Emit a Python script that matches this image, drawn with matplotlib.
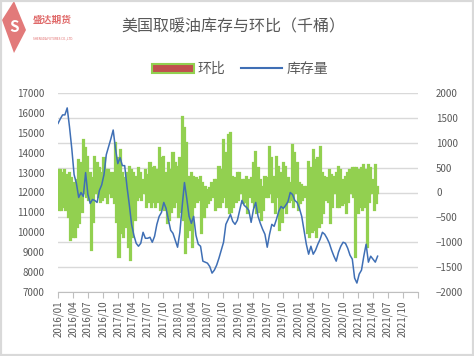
import matplotlib
matplotlib.use("Agg")
import matplotlib.pyplot as plt
from matplotlib.patches import Patch, Polygon, Rectangle
from matplotlib.lines import Line2D
import numpy as np
import pandas as pd

plt.rcParams['font.family'] = ['Noto Sans CJK SC', 'DejaVu Sans']

# DATA ###
title = "美国取暖油库存与环比（千桶）"
inv_label = "库存量"
chg_label = "环比"

# inventory, thousand barrels, read every two weeks from 2016-01-01
inventory = [
    15470, 15700, 15900, 15900, 16250, 15300, 14200, 12900, 12460, 11750,
    12000, 11800, 13000, 11900, 11450, 11650, 11600, 11500, 12100, 12380,
    12900, 13900, 14300, 14700, 15140, 14200, 13450, 13750, 13350, 13350,
    12300, 11400, 10400, 9850, 9450, 9300, 9450, 10000, 9700, 9700,
    9750, 9500, 9800, 10400, 10800, 11000, 11500, 11200, 10650, 10100,
    9950, 9600, 9250, 10000, 11300, 12500, 11700, 10800, 10450, 10800,
    9850, 9400, 9300, 8550, 8500, 8450, 8280, 7950, 8100, 8350,
    8700, 9100, 9500, 10400, 10650, 10900, 10550, 10400, 10600, 11100,
    11600, 11350, 11250, 11100, 10500, 11150, 11500, 10800, 10450, 10150,
    9900, 9250, 9900, 10400, 10300, 10650, 11050, 11300, 11200, 11350,
    11540, 12000, 11900, 11600, 11500, 11200, 10800, 10100, 9400, 8900,
    9300, 8900, 9100, 9400, 9650, 10000, 9900, 9700, 9450, 9100,
    8800, 8550, 9000, 9300, 9500, 9450, 9200, 8850, 8650, 7700,
    7450, 7900, 8100, 8800, 9400, 8500, 8800, 8650, 8500, 8800,
]

# week-on-week change, thousand barrels, weekly from 2016-01-01
change = [
    452, -352, 452, -352, 400, -300, 452, -352, 350, -500,
    385, -955, 300, -900, 184, -888, 250, -700, 653, -620,
    600, -400, 1055, -17, 900, -100, 720, -151, 385, -1156,
    300, -600, 720, 50, 586, -84, 500, -200, 400, -150,
    686, -84, 452, -218, 452, -17, 400, -100, 385, -218,
    988, -600, 700, -1290, 854, -821, 385, -888, 300, -700,
    385, -1089, 519, -1357, 450, -900, 385, -553, 318, -151,
    485, -100, 400, -151, 251, -17, 452, -285, 350, -200,
    586, -285, 500, -200, 519, -285, 450, -200, 888, -352,
    700, -300, 720, -352, 385, -620, 586, -553, 450, -400,
    787, -285, 600, -200, 519, -486, 700, -400, 1524, -553,
    1290, -1223, 1000, -900, 318, -754, 385, -1089, 318, -285,
    300, -200, 251, -151, 318, -821, 200, -500, 117, -285,
    50, -218, 100, -150, 184, -84, 251, -352, 251, -300,
    519, -285, 450, -200, 1055, -84, 800, -300, 1156, -419,
    1190, -400, 318, -285, 300, -200, 385, -151, 385, 50,
    251, -218, 251, -200, 318, -419, 251, -84, 300, -200,
    586, -285, 820, -419, 500, -400, 251, -553, 117, -352,
    318, -84, 300, -100, 921, -17, 700, -200, 318, -419,
    720, -84, 519, -754, 400, -600, 586, -285, 519, -419,
    300, -200, 184, -151, 955, -300, 800, -17, 586, -352,
    184, -218, 150, -150, 117, -84, 117, -821, 620, -888,
    500, -800, 854, -754, 653, -888, 700, -700, 921, -620,
    400, -419, 318, -151, 300, -200, 452, -620, 350, -300,
    318, -17, 385, -285, 519, -285, 450, -250, 251, -218,
    318, -419, 400, -200, 452, 50, 485, -84, 485, -1290,
    485, -419, 450, -300, 485, -350, 553, -285, 452, -1089,
    553, -200, 500, -17, 251, -352, 553, -218, 117, -17,
]

quarter_labels = [
    "2016/01", "2016/04", "2016/07", "2016/10", "2017/01", "2017/04",
    "2017/07", "2017/10", "2018/01", "2018/04", "2018/07", "2018/10",
    "2019/01", "2019/04", "2019/07", "2019/10", "2020/01", "2020/04",
    "2020/07", "2020/10", "2021/01", "2021/04", "2021/07", "2021/10", "",
]
############

inv_dates = pd.date_range("2016-01-01", periods=len(inventory), freq="14D")
chg_dates = pd.date_range("2016-01-01", periods=len(change), freq="7D")
tick_dates = pd.date_range("2016-01-01", periods=len(quarter_labels), freq="QS-JAN")

grey = "#595959"
green = "#92D050"
red = "#C0504D"
blue = "#3F6FB5"

fig = plt.figure(figsize=(4.74, 3.56), dpi=100)
ax = fig.add_axes([58 / 474, 1 - 292 / 356, 360 / 474, 199 / 356])
ax2 = ax.twinx()

# bars (right scale) sit behind, line (left scale) on top
# columns are so narrow that only their thick green border shows
ax2.bar(chg_dates, change, width=7, color=green, edgecolor=green, linewidth=1.6, zorder=2)
ax2.set_ylim(-2000, 2000)
ax2.set_yticks(np.arange(-2000, 2001, 500))
ax2.grid(axis="y", color="#D9D9D9", linewidth=1, zorder=0)
ax2.set_axisbelow(True)

ax.plot(inv_dates, inventory, color=blue, linewidth=1.1)
ax.set_ylim(7000, 17000)
ax.set_yticks(np.arange(7000, 17001, 1000))
ax.set_zorder(ax2.get_zorder() + 1)
ax.patch.set_visible(False)

ax.set_xlim(tick_dates[0], tick_dates[-1])
ax.set_xticks(tick_dates)
ax.set_xticklabels(quarter_labels, rotation=90, fontsize=7, color=grey)

for a in (ax, ax2):
    for s in ("top", "left", "right"):
        a.spines[s].set_visible(False)
    a.spines["bottom"].set_color("#BFBFBF")
    a.tick_params(axis="y", length=0, labelsize=7, labelcolor=grey)
ax.tick_params(axis="y", pad=10)
ax2.tick_params(axis="y", pad=13)
ax.tick_params(axis="x", length=4, color="#BFBFBF", pad=2)
ax2.spines["bottom"].set_visible(False)

fig.text(0.493, 0.924, title, ha="center", va="center", fontsize=11.5, color=grey)

handles = [Patch(facecolor=red, edgecolor=green, linewidth=1.5),
           Line2D([], [], color=blue, linewidth=1.5)]
fig.legend(handles, [chg_label, inv_label], loc="center", bbox_to_anchor=(240 / 474, 1 - 69 / 356),
           ncol=2, frameon=False, fontsize=10, handlelength=3.0, handleheight=0.6,
           columnspacing=1.1, handletextpad=0.3, labelcolor=grey)

# logo
fig.patches.append(Polygon([(2 / 474, 1 - 20 / 356), (14 / 474, 1 - 1 / 356),
                            (26 / 474, 1 - 30 / 356), (14 / 474, 1 - 53 / 356)],
                           closed=True, transform=fig.transFigure, facecolor="#E27A7A",
                           edgecolor="none"))
fig.text(14 / 474, 1 - 27 / 356, "S", ha="center", va="center", fontsize=11,
         color="white", fontweight="bold")
fig.text(33 / 474, 1 - 20 / 356, "盛达期货", ha="left", va="center", fontsize=7,
         color="#E06A6A", fontweight="bold")
fig.text(33 / 474, 1 - 38 / 356, "SHENGDA FUTURES CO.,LTD.", ha="left", va="center",
         fontsize=2.2, color="#E06A6A")

fig.patches.append(Rectangle((0, 0), 1, 1, transform=fig.transFigure, fill=False,
                             edgecolor="#D9D9D9", linewidth=3))

fig.savefig("out.png", dpi=100)
